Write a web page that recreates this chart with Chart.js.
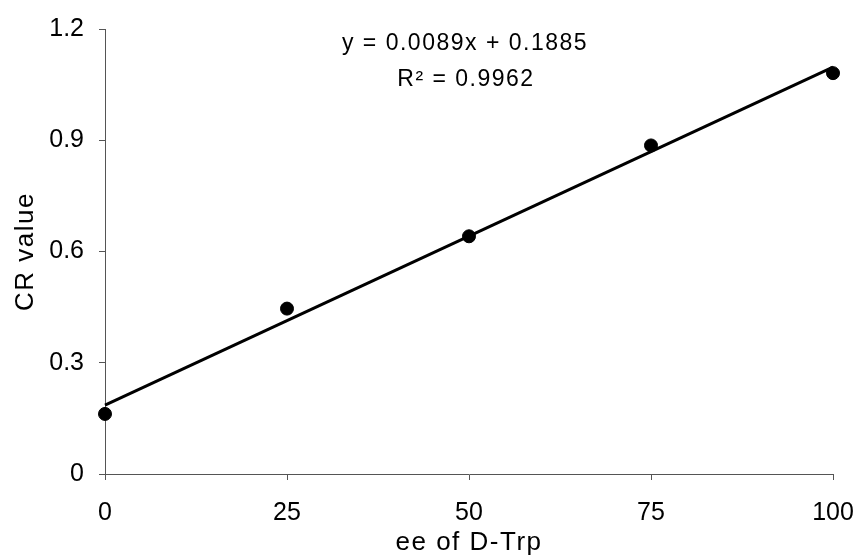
<!DOCTYPE html>
<html>
<head>
<meta charset="utf-8">
<script src="https://cdn.jsdelivr.net/npm/chart.js@4"></script>
<style>
    body { margin: 0; background: #fff; }
    canvas { display: block; }
</style>
</head>
<body>
<canvas id="chart" width="862" height="559"></canvas>
<script>
// data
const eeValues = [0, 25, 50, 75, 100];
const crValues = [0.162, 0.446, 0.641, 0.886, 1.081];

// trendline ends, as drawn
const trendX = [0, 100];
const trendY = [0.186, 1.097];

const xTickValues = [0, 25, 50, 75, 100];
const yTickValues = [0, 0.3, 0.6, 0.9, 1.2];
const yTickLabels = ['0', '0.3', '0.6', '0.9', '1.2'];

const equationLines = ['y = 0.0089x + 0.1885', 'R² = 0.9962'];

const fontFamily = '"Liberation Sans", Arial, sans-serif';

// axis titles in the scan are wider than plain Arial
const titleSpacingPlugin = {
    id: 'titleSpacing',
    beforeDraw: function (chart) {
        Object.values(chart.scales).forEach(scale => {
            if (scale._spaced) return;
            const drawTitle = scale.drawTitle;
            scale.drawTitle = function () {
                this.ctx.save();
                this.ctx.letterSpacing = '1.5px';
                drawTitle.apply(this, arguments);
                this.ctx.restore();
            };
            scale._spaced = true;
        });
    }
};

// draws the regression text in the plot
const equationPlugin = {
    id: 'equation',
    afterDraw: function (chart) {
        let ctx = chart.ctx;
        ctx.save();
        ctx.letterSpacing = '1.5px';
        ctx.fillStyle = '#000';
        ctx.font = '23px ' + fontFamily;
        ctx.textAlign = 'center';
        ctx.textBaseline = 'middle';
        ctx.fillText(equationLines[0], 465, 44);
        ctx.fillText(equationLines[1], 466, 80);
        ctx.restore();
    }
};

let ctx = document.getElementById('chart').getContext('2d');

new Chart(ctx, {
    type: 'scatter',
    data: {
        datasets: [{
            label: 'CR value',
            data: eeValues.map((x, i) => ({ x: x, y: crValues[i] })),
            backgroundColor: '#000',
            borderColor: '#000',
            pointRadius: 6.5,
            pointHoverRadius: 6.5,
            clip: false
        }, {
            type: 'line',
            label: 'trend',
            data: trendX.map((x, i) => ({ x: x, y: trendY[i] })),
            borderColor: '#000',
            borderWidth: 3,
            pointRadius: 0,
            fill: false,
            clip: false
        }]
    },
    options: {
        responsive: false,
        animation: false,
        events: [],
        layout: {
            padding: { top: 29, right: 29, left: 0, bottom: 0 }
        },
        plugins: {
            legend: { display: false },
            tooltip: { enabled: false }
        },
        scales: {
            x: {
                type: 'linear',
                min: 0,
                max: 100,
                afterBuildTicks: function (scale) {
                    scale.ticks = xTickValues.map(v => ({ value: v }));
                },
                afterFit: function (scale) {
                    scale.height = 85;
                    scale.paddingLeft = 0;
                    scale.paddingRight = 0;
                },
                grid: {
                    drawOnChartArea: false,
                    drawTicks: true,
                    tickLength: 6,
                    color: '#555'
                },
                border: { display: true, color: '#555', width: 1 },
                ticks: {
                    color: '#000',
                    padding: 18,
                    font: { family: fontFamily, size: 25 }
                },
                title: {
                    display: true,
                    text: 'ee of D-Trp',
                    color: '#000',
                    padding: { top: 0, bottom: 1 },
                    font: { family: fontFamily, size: 26 }
                }
            },
            y: {
                type: 'linear',
                min: 0,
                max: 1.2,
                afterBuildTicks: function (scale) {
                    scale.ticks = yTickValues.map(v => ({ value: v }));
                },
                afterFit: function (scale) {
                    scale.width = 105;
                    scale.paddingTop = 0;
                    scale.paddingBottom = 0;
                },
                grid: {
                    drawOnChartArea: false,
                    drawTicks: true,
                    tickLength: 6,
                    color: '#555'
                },
                border: { display: true, color: '#555', width: 1 },
                ticks: {
                    color: '#000',
                    padding: 15,
                    font: { family: fontFamily, size: 25 },
                    callback: function (value) {
                        let i = yTickValues.indexOf(value);
                        return i >= 0 ? yTickLabels[i] : '';
                    }
                },
                title: {
                    display: true,
                    text: 'CR value',
                    color: '#000',
                    padding: { top: 10, bottom: 0 },
                    font: { family: fontFamily, size: 26 }
                }
            }
        }
    },
    plugins: [titleSpacingPlugin, equationPlugin]
});
</script>
</body>
</html>
